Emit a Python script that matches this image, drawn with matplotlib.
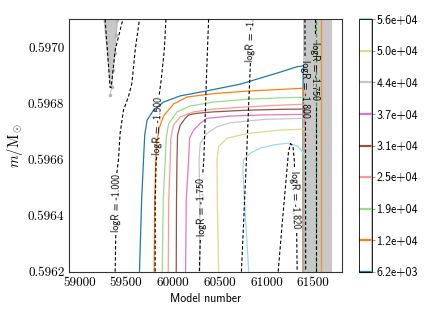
import numpy as np
import matplotlib
matplotlib.use("Agg")
import matplotlib.pyplot as plt
from matplotlib.colors import Normalize, ListedColormap
from matplotlib.cm import ScalarMappable
from matplotlib.ticker import FormatStrFormatter

plt.rcParams['mathtext.fontset'] = 'cm'
plt.rcParams['axes.unicode_minus'] = False
plt.rcParams['axes.formatter.use_mathtext'] = True

# colour levels of the solid contours (colorbar)
levels = [6.2e3, 1.24e4, 1.86e4, 2.49e4, 3.11e4, 3.73e4, 4.36e4, 4.98e4, 5.6e4]

# solid contours, one (model number, m) trace per level, low -> high
c_x = [
    [59643, 59666, 59686, 59699, 59725, 59793, 59900, 60079, 60365, 60722, 60971, 61150, 61329, 61397, 61392, 61392],
    [59800, 59806, 59817, 59829, 59854, 59900, 60007, 60151, 60436, 60794, 61150, 61375, 61397, 61396],
    [59886, 59897, 59918, 59929, 59954, 60044, 60186, 60436, 60794, 61150, 61375, 61401, 61400],
    [59950, 59956, 59972, 59977, 60007, 60079, 60222, 60436, 60794, 61150, 61375, 61405, 61404],
    [60036, 60039, 60044, 60050, 60079, 60133, 60168, 60258, 60436, 60794, 61150, 61375, 61408, 61407],
    [60136, 60143, 60168, 60179, 60222, 60293, 60365, 60615, 60971, 61375, 61411, 61410],
    [60288, 60288, 60280, 60293, 60365, 60472, 60615, 60971, 61375, 61415, 61414],
    [60489, 60475, 60472, 60489, 60579, 60794, 61150, 61375, 61418, 61417],
    [60811, 60765, 60749, 60754, 60829, 60936, 61075, 61225, 61332, 61386, 61421, 61420],
]
c_y = [
    [0.59620, 0.596456, 0.596598, 0.596687, 0.596741, 0.596776, 0.596805, 0.596827, 0.596845, 0.596869, 0.596894, 0.596912, 0.596931, 0.596934, 0.596900, 0.59620],
    [0.59620, 0.596456, 0.596598, 0.596659, 0.596712, 0.596755, 0.596798, 0.596823, 0.596835, 0.596844, 0.596850, 0.596854, 0.596855, 0.59620],
    [0.59620, 0.596456, 0.596598, 0.596676, 0.596727, 0.596770, 0.596791, 0.596805, 0.596815, 0.596820, 0.596822, 0.596823, 0.59620],
    [0.59620, 0.596456, 0.596598, 0.596676, 0.596723, 0.596752, 0.596770, 0.596780, 0.596788, 0.596794, 0.596797, 0.596798, 0.59620],
    [0.59620, 0.596456, 0.596598, 0.596687, 0.596723, 0.596747, 0.596759, 0.596765, 0.596770, 0.596776, 0.596779, 0.596780, 0.596782, 0.59620],
    [0.59620, 0.596456, 0.596598, 0.596676, 0.596705, 0.596729, 0.596747, 0.596755, 0.596759, 0.596761, 0.596762, 0.59620],
    [0.59620, 0.596456, 0.596598, 0.596658, 0.596693, 0.596717, 0.596731, 0.596743, 0.596747, 0.596748, 0.59620],
    [0.59620, 0.596456, 0.596598, 0.596646, 0.596676, 0.596693, 0.596705, 0.596708, 0.596709, 0.59620],
    [0.59620, 0.596456, 0.596563, 0.596598, 0.596623, 0.596641, 0.596652, 0.596658, 0.596648, 0.596627, 0.596605, 0.59620],
]

# dashed logR contours: list of segments (gaps where the labels sit)
r_segs = [
    [([59383, 59390], [0.59620, 0.596338]),
     ([59401, 59418, 59436, 59472, 59525, 59562, 59597, 59643],
      [0.596552, 0.596598, 0.596694, 0.596776, 0.596824, 0.596872, 0.596990, 0.59710])],
    [([59926, 59908, 59875, 59854], [0.59710, 0.596990, 0.596883, 0.596830]),
     ([59827, 59822, 59811, 59811], [0.596609, 0.596598, 0.596456, 0.59620])],
    [([60382, 60358, 60331, 60318], [0.59710, 0.596883, 0.596598, 0.596545]),
     ([60293, 60283], [0.596313, 0.59620])],
    [([60829, 60808, 60786, 60733], [0.596944, 0.596776, 0.596598, 0.59620])],
    [([61126, 61172, 61215, 61236, 61258, 61284, 61298, 61300],
      [0.59620, 0.596384, 0.596545, 0.596627, 0.596657, 0.596648, 0.596598, 0.596570]),
     ([61324, 61329], [0.596338, 0.59620])],
    [([61412, 61413], [0.59710, 0.596966]),
     ([61418, 61420], [0.596735, 0.59620])],
    [([61524, 61524], [0.59710, 0.597044]),
     ([61525, 61525], [0.596787, 0.59620])],
    # closed contour round the small convective wedge
    [([59275, 59300, 59329, 59340, 59383, 59465], [0.59710, 0.59699, 0.596857, 0.596857, 0.59699, 0.59710])],
]
r_labels = ['logR = -1.000', 'logR = -1.500', 'logR = -1.750', 'logR = -1.800',
            'logR = -1.820', 'logR = -1.800', 'logR = -1.750']
r_lab_x = [59394, 59838, 60304, 60835, 61311, 61416, 61524]
r_lab_y = [0.596445, 0.596719, 0.596429, 0.597051, 0.596456, 0.596851, 0.596916]
r_lab_rot = [89, 88, 91, 88, 272, 270, 270]

# convective (grey) regions
wedge_x = [59257, 59418, 59329]
wedge_y = [0.59710, 0.59710, 0.596854]
wedge_edge_x = [59401, 59393, 59383, 59361, 59347, 59329]
wedge_edge_y = [0.597097, 0.597044, 0.596980, 0.596919, 0.596860, 0.596830]
band_x = [61390, 61704]
green_x = 61530
orange_x = 61579

fig = plt.figure(figsize=(4.36, 3.17), dpi=100)
ax = fig.add_axes([0.159, 0.143, 0.626, 0.796])
cax = fig.add_axes([0.823, 0.143, 0.030, 0.796])

ax.axvspan(band_x[0], band_x[1], color='#c8c8c8', lw=0, zorder=0)
ax.fill(wedge_x, wedge_y, color='#c8c8c8', lw=0, zorder=0)
ax.plot(wedge_edge_x, wedge_edge_y, '-o', color='#b4b4b4', lw=0.6, ms=1.5, zorder=1)

cols = plt.cm.tab20(np.linspace(0, 1, len(levels)))
for xs, ys, c in zip(c_x, c_y, cols):
    ax.plot(xs, ys, color=c, lw=0.9, zorder=3)

ax.axvline(orange_x, color='#ff7f0e', lw=1.0, alpha=0.75, zorder=2)
ax.axvline(green_x, color='#2ca02c', lw=0.9, ls=(2, (3, 2)), zorder=2)

for segs in r_segs:
    for xs, ys in segs:
        ax.plot(xs, ys, color='black', lw=0.8, ls=(0, (3, 2)), zorder=4)

for t, x, y, r in zip(r_labels, r_lab_x, r_lab_y, r_lab_rot):
    ax.text(x, y, t, rotation=r, ha='center', va='center', fontsize=7,
            family=['cmss10', 'DejaVu Sans'], clip_on=True, zorder=5,
            rotation_mode='anchor')

ax.set_xlim(58893, 61811)
ax.set_ylim(0.5962, 0.59710)
ax.set_xticks([59000, 59500, 60000, 60500, 61000, 61500])
ax.set_yticks([0.5962, 0.5964, 0.5966, 0.5968, 0.5970])
ax.xaxis.set_major_formatter(FormatStrFormatter('%d'))
ax.yaxis.set_major_formatter(FormatStrFormatter('%.4f'))
ax.tick_params(length=0, pad=3.5, labelsize=9.5)
for lab in ax.get_xticklabels() + ax.get_yticklabels():
    lab.set_fontfamily('cmr10')
for s in ax.spines.values():
    s.set_linewidth(0.8)
    s.set_color('#333333')

ax.set_xlabel('Model number', fontsize=8.5, family=['cmss10', 'DejaVu Sans'], labelpad=3)
ax.set_ylabel(r'$m/\mathrm{M}_\odot$', fontsize=10.5, labelpad=2)

sm = ScalarMappable(norm=Normalize(levels[0], levels[-1]), cmap=ListedColormap(['white']))
cb = fig.colorbar(sm, cax=cax, ticks=levels, format='%.1e')
cb.add_lines(levels, cols, [1.6] * len(levels))
cb.outline.set_linewidth(0.6)
cax.axvline(1, color='#aaaaaa', lw=1.8)
cax.tick_params(length=2, width=0.6, labelsize=8.5, pad=1.5, color='#888888')
for lab in cax.get_yticklabels():
    lab.set_fontfamily('cmss10')

fig.savefig('out.png', dpi=100)
